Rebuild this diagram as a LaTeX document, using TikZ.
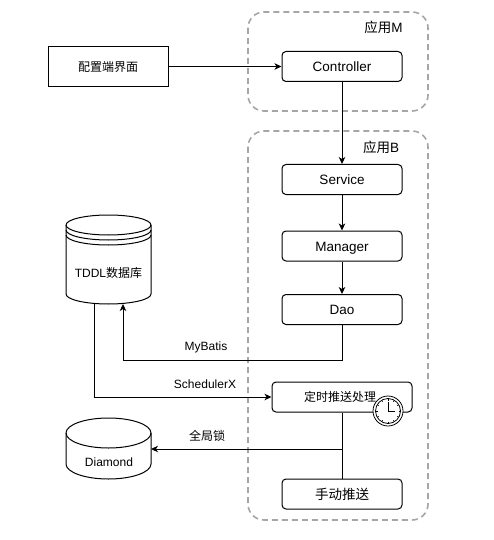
\documentclass[tikz,border=0pt]{standalone}
\usepackage{fontspec}
\setmainfont{Liberation Sans}
\newfontfamily\cjk{Noto Sans CJK SC}
\usetikzlibrary{arrows.meta,calc}
\tikzset{
  x=1pt,y=1pt,
  groupbox/.style={draw=black!35,line width=1.6pt,dash pattern=on 6pt off 4pt,rounded corners=16pt},
  appbox/.style={draw=black,line width=1pt,rounded corners=4pt,fill=white,minimum width=120pt,minimum height=30pt,inner sep=0pt,font=\fontsize{13.5}{15}\selectfont},
  latinbox/.style={appbox,text height=11pt,text depth=1pt},
  plainbox/.style={draw=black,line width=1pt,fill=white,minimum width=120pt,minimum height=40pt,inner sep=0pt,font=\fontsize{12}{14}\selectfont},
  lbl/.style={inner sep=0pt,font=\fontsize{12}{14}\selectfont},
  flow/.style={draw=black,line width=1pt,-{Stealth[length=7pt,width=6.5pt,inset=2pt]}},
  link/.style={draw=black,line width=1pt},
  cyl/.style={draw=black,line width=1pt,fill=white},
}
\begin{document}
\begin{tikzpicture}
\useasboundingbox (0,0) rectangle (493,-540);
% groups
\draw[groupbox] (248,-12) rectangle (428,-111);
\draw[groupbox] (248,-131) rectangle (428,-520);
\node[lbl,font=\fontsize{13.5}{15}\selectfont] (lm) at (383.5,-27) {{\cjk 应用}M};
\node[lbl,font=\fontsize{13.5}{15}\selectfont] (lb) at (381,-147) {{\cjk 应用}B};
% boxes
\node[plainbox] (cfg) at (108,-66.5) {\cjk 配置端界面};
\node[latinbox] (ctrl) at (342,-66.5) {Controller};
\node[latinbox] (svc) at (342,-179.5) {Service};
\node[latinbox] (mgr) at (342,-246) {Manager};
\node[latinbox] (dao) at (342,-309.5) {Dao};
\node[appbox,minimum width=140pt,font=\fontsize{12}{14}\selectfont] (job) at (342,-397) {\hspace*{-4pt}\cjk 定时推送处理};
\node[appbox] (man) at (342,-494) {\cjk 手动推送};
% TDDL cylinder
\draw[cyl] (66,-225) arc[start angle=180,end angle=0,x radius=42.5,y radius=10]
  -- (151,-294) arc[start angle=0,end angle=-180,x radius=42.5,y radius=10] -- cycle;
\draw[cyl,fill=none] (66,-225) arc[start angle=180,end angle=360,x radius=42.5,y radius=10];
\draw[link] (66,-230) arc[start angle=180,end angle=360,x radius=42.5,y radius=10];
\draw[link] (66,-235) arc[start angle=180,end angle=360,x radius=42.5,y radius=10];
\node[lbl] (tddl) at (108.5,-273) {TDDL{\cjk 数据库}};
\coordinate (tddlout) at (94,-304);
\coordinate (tddlin) at (123,-304);
% Diamond cylinder
\draw[cyl] (66,-433) arc[start angle=180,end angle=0,x radius=42.5,y radius=15]
  -- (151,-464) arc[start angle=0,end angle=-180,x radius=42.5,y radius=15] -- cycle;
\draw[cyl,fill=none] (66,-433) arc[start angle=180,end angle=360,x radius=42.5,y radius=15];
\node[lbl] (dia) at (109,-462) {Diamond};
\coordinate (diaport) at (151,-449);
\coordinate (fork) at (342,-449);
% connectors
\draw[flow] (cfg.east) -- (ctrl.west);
\draw[flow] (ctrl.south) -- (svc.north);
\draw[flow] (svc.south) -- (mgr.north);
\draw[flow] (mgr.south) -- (dao.north);
\draw[flow] (dao.south) |- (123,-360) -- (tddlin);
\draw[flow] (tddlout) |- (job.west);
\draw[link] (job.south) -- (man.north);
\draw[flow] (fork) -- (diaport);
% edge labels
\node[lbl] (mb) at (206,-347) {MyBatis};
\node[lbl] (sx) at (205,-384) {SchedulerX};
\node[lbl] (gl) at (207,-436) {\cjk 全局锁};
% timer
\begin{scope}[shift={(388,-411)}]
  \draw[draw=black,line width=0.8pt,fill=white] (0,0) circle (15);
  \draw[draw=black,line width=0.8pt,fill=white] (0,0) circle (12.5);
  \foreach \a in {0,30,...,330}
    \draw[line width=0.5pt] (\a:10.5) -- (\a:12.5);
  \draw[line width=0.8pt] (0,9) -- (0,0) -- (6.5,0);
\end{scope}
\end{tikzpicture}
\end{document}
